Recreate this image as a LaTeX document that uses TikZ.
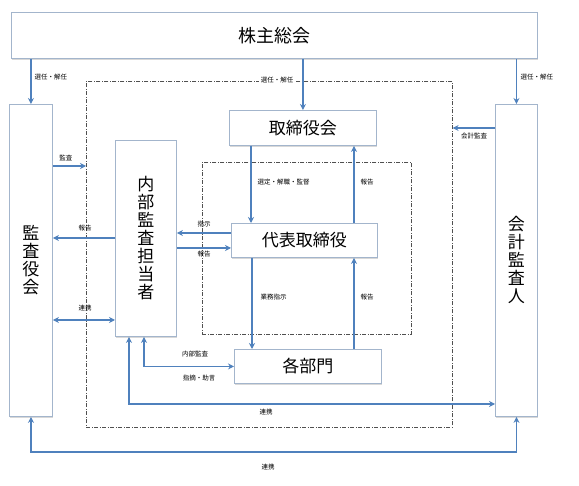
\documentclass[tikz,border=0pt]{standalone}
\usepackage{fontspec}
\setmainfont{Noto Sans CJK JP}
\usetikzlibrary{arrows.meta,shadows,calc}
\definecolor{arrowblue}{HTML}{4F81BD}
\definecolor{boxline}{HTML}{A3B5CC}
\definecolor{dashgray}{HTML}{505050}
\begin{document}
\begin{tikzpicture}[x=1pt,y=-1pt,
  box/.style={draw=boxline, line width=0.9pt, fill=white, inner sep=0pt, anchor=north west,
    drop shadow={shadow xshift=1pt,shadow yshift=-1.2pt,opacity=0.3}},
  big/.style={font=\fontsize{17}{18}\selectfont},
  vert/.style={align=center, font=\fontsize{17}{18}\selectfont},
  conn/.style={draw=arrowblue, line width=1.8pt, -{Stealth[length=6pt,width=6pt]}},
  both/.style={draw=arrowblue, line width=1.8pt, {Stealth[length=6pt,width=6pt]}-{Stealth[length=6pt,width=6pt]}},
  lbl/.style={font=\fontsize{6.5}{7}\selectfont, inner sep=0.5pt},
  frame/.style={draw=dashgray, line width=0.6pt, dash pattern=on 4pt off 1.5pt on 1pt off 1.5pt,
    inner sep=0pt, anchor=north west}
]
\fill[white] (0,0) rectangle (579,486);
\useasboundingbox (0,0) rectangle (579,486);

% frames
\node[frame, minimum width=366pt, minimum height=346pt] (outer) at (86,81) {};
\node[frame, minimum width=209pt, minimum height=172pt] (inner) at (202,162) {};

% boxes
\node[box, big, minimum width=526pt, minimum height=46pt, font=\fontsize{18}{20}\selectfont] (sh) at (11,12) {株主総会};
\node[box, vert, minimum width=43pt, minimum height=312pt] (kansa) at (9,104) {監\\査\\役\\会};
\node[box, vert, minimum width=42pt, minimum height=312pt] (kaikei) at (495,104) {会\\計\\監\\査\\人};
\node[box, vert, minimum width=61pt, minimum height=196pt] (naibu) at (115,140) {内\\部\\監\\査\\担\\当\\者};
\node[box, big, minimum width=147pt, minimum height=35pt] (tori) at (229,110) {取締役会};
\node[box, big, minimum width=146pt, minimum height=34pt] (daihyo) at (231,223) {代表取締役};
\node[box, big, minimum width=147pt, minimum height=34pt] (kakubu) at (234,349) {各部門};

% helper levels
\coordinate (h166) at (0,166);
\coordinate (h238) at (0,238);
\coordinate (h320) at (0,320);
\coordinate (h233) at (0,233);
\coordinate (h248) at (0,248);
\coordinate (h128) at (0,128);
\coordinate (h404) at (0,404);
\coordinate (h452) at (0,452);
\coordinate (v251) at (251,0);
\coordinate (v252) at (252,0);
\coordinate (v354) at (354,0);
\coordinate (v144) at (144,0);
\coordinate (v129) at (129,0);

% connectors
\draw[conn] (kansa.north |- sh.south) -- (kansa.north);
\draw[conn] (tori.north |- sh.south) -- (tori.north);
\draw[conn] (kaikei.north |- sh.south) -- (kaikei.north);
\draw[conn] (kansa.east |- h166) -- (outer.west |- h166);
\draw[conn] (naibu.west |- h238) -- (kansa.east |- h238);
\draw[both] (kansa.east |- h320) -- (naibu.west |- h320);
\draw[conn] (tori.south -| v251) -- (daihyo.north -| v251);
\draw[conn] (daihyo.north -| v354) -- (tori.south -| v354);
\draw[conn] (daihyo.west |- h233) -- (naibu.east |- h233);
\draw[conn] (naibu.east |- h248) -- (daihyo.west |- h248);
\draw[conn] (daihyo.south -| v252) -- (kakubu.north -| v252);
\draw[conn] (kakubu.north -| v354) -- (daihyo.south -| v354);
\draw[conn] (kaikei.west |- h128) -- (outer.east |- h128);
\draw[both] (naibu.south -| v144) |- (kakubu.west);
\draw[both] (naibu.south -| v129) |- (kaikei.west |- h404);
\draw[both] (kansa.south) -- (kansa.south |- h452) -| (kaikei.south);

% labels
\node[lbl, anchor=west] (l1) at (34,77) {選任・解任};
\node[lbl, fill=white, inner sep=1.5pt] (l2) at (277,80) {選任・解任};
\node[lbl, anchor=west] (l3) at (520,77) {選任・解任};
\node[lbl] (l4) at (66,158) {監査};
\node[lbl] (l5) at (85,228) {報告};
\node[lbl] (l6) at (85,308) {連携};
\node[lbl, anchor=west] (l7) at (257,182) {選定・解職・監督};
\node[lbl, anchor=west] (l8) at (360,182) {報告};
\node[lbl] (l9) at (204,224) {指示};
\node[lbl] (l10) at (204,254) {報告};
\node[lbl, anchor=west] (l11) at (260,297) {業務指示};
\node[lbl, anchor=west] (l12) at (360,297) {報告};
\node[lbl] (l13) at (474,136) {会計監査};
\node[lbl] (l14) at (195,354) {内部監査};
\node[lbl] (l15) at (199,378) {指摘・助言};
\node[lbl] (l16) at (266,412) {連携};
\node[lbl] (l17) at (268,467) {連携};
\end{tikzpicture}
\end{document}
